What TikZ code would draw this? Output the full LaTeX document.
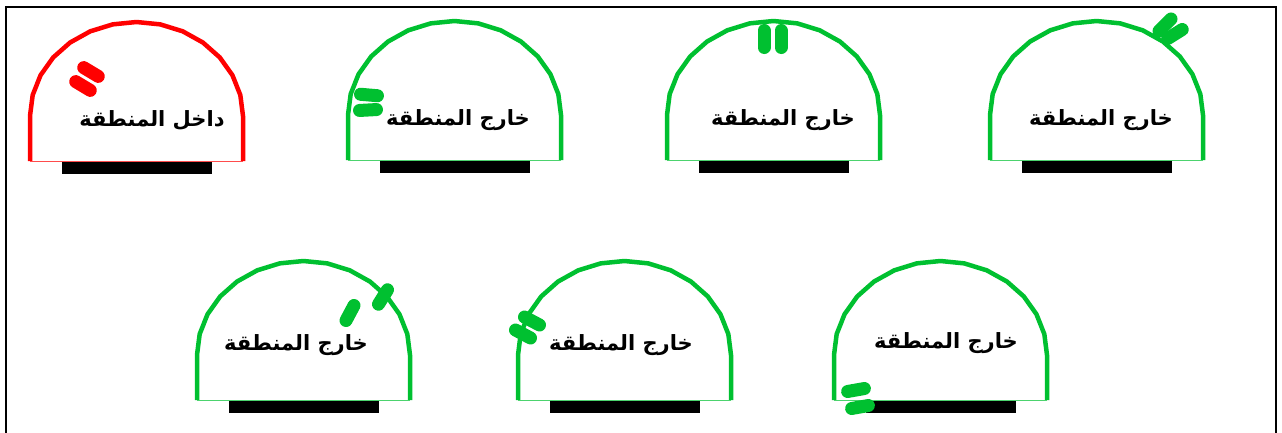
\documentclass[tikz,border=0pt]{standalone}
\usepackage{fontspec}
\usetikzlibrary{calc}
\TeXXeTstate=1
\newfontfamily\arabicfont[Script=Arabic]{DejaVu Sans}
\definecolor{tgreen}{RGB}{0,192,48}
\definecolor{tred}{RGB}{255,0,0}
\newcommand\artext[1]{{\fontsize{21}{25}\selectfont\arabicfont\bfseries\beginR #1\endR}}
\tikzset{
  archline/.style={line width=4.5pt, line join=round},
  baseline/.style={line width=1pt},
  barfill/.style={fill=black},
  lbl/.style={inner sep=0pt, anchor=center},
  frame/.style={line width=2pt, draw=black},
  pillline/.style={line width=13pt, line cap=round}
}
\newcommand\mytunnel[3]{%
  \draw[archline,#3] (#1,#2) -- (#1,#2-45) --
     plot[domain=180:0, samples=15] ({#1+106.5+106.5*cos(\x)},{#2-45-94*sin(\x)}) --
     (#1+213,#2);
  \draw[baseline,#3!70] (#1,#2) -- (#1+213,#2);
  \fill[barfill] (#1+32,#2+0.5) rectangle (#1+182,#2+12.5);
}
\newcommand\mypill[4]{%
  \draw[pillline,#1] ($(#2,#3)+(#4:8.5pt)$) -- ($(#2,#3)+(#4+180:8.5pt)$);
}
\begin{document}
\begin{tikzpicture}[x=1pt,y=-1pt]
\useasboundingbox (0,0) rectangle (1282,432);
\draw[frame] (6,440) -- (6,7) -- (1276,7) -- (1276,440);
% top row
\mytunnel{30}{161}{tred}
\mytunnel{348}{160}{tgreen}
\mytunnel{667}{160}{tgreen}
\mytunnel{990}{160}{tgreen}
% bottom row
\mytunnel{197}{400}{tgreen}
\mytunnel{518}{400}{tgreen}
\mytunnel{834}{400}{tgreen}
% labels
\node[lbl] (t1) at (152,120) {\artext{داخل المنطقة}};
\node[lbl] (t2) at (458,120) {\artext{خارج المنطقة}};
\node[lbl] (t3) at (783,120) {\artext{خارج المنطقة}};
\node[lbl] (t4) at (1101,120) {\artext{خارج المنطقة}};
\node[lbl] (t5) at (296,345) {\artext{خارج المنطقة}};
\node[lbl] (t6) at (621,345) {\artext{خارج المنطقة}};
\node[lbl] (t7) at (946,343) {\artext{خارج المنطقة}};
% pills
\mypill{tred}{91}{72}{-31}
\mypill{tred}{83}{86}{-31}
\mypill{tgreen}{369}{95}{-5}
\mypill{tgreen}{368}{110}{3}
\mypill{tgreen}{764}{39}{90}
\mypill{tgreen}{781}{39}{90}
\mypill{tgreen}{1165}{25}{45}
\mypill{tgreen}{1175}{34}{32}
\mypill{tgreen}{350}{313}{62}
\mypill{tgreen}{383}{297}{58}
\mypill{tgreen}{532}{321}{-28}
\mypill{tgreen}{523}{334}{-28}
\mypill{tgreen}{856}{390}{10}
\mypill{tgreen}{860}{407}{10}
\end{tikzpicture}
\end{document}
